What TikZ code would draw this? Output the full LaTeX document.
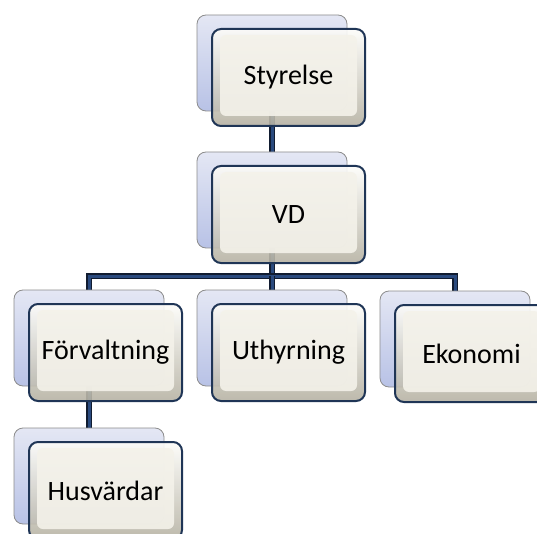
\documentclass[tikz,border=0pt]{standalone}
\usepackage{fontspec}
\setmainfont{Carlito}
\definecolor{bbtop}{HTML}{E4E7F4}
\definecolor{bbbot}{HTML}{B8C2E6}
\definecolor{fbtop}{HTML}{FCFCF9}
\definecolor{fbmid}{HTML}{EBE9E1}
\definecolor{fbbot}{HTML}{B6B2A3}
\definecolor{fbin}{HTML}{F4F2EA}
\definecolor{fbord}{HTML}{1F3556}
\definecolor{lineout}{HTML}{111C30}
\definecolor{linein}{HTML}{2A4A7E}
\pgfdeclarelayer{connl}
\pgfdeclarelayer{backl}
\pgfsetlayers{connl,backl,main}
\tikzset{
  backbox/.style={draw=black!45, line width=0.8pt, rounded corners=9pt,
    top color=bbtop, bottom color=bbbot, minimum width=150pt, minimum height=96pt, inner sep=0pt},
  frontbox/.style={draw=fbord, line width=2pt, rounded corners=9pt,
    top color=fbtop, middle color=fbmid, bottom color=fbbot, minimum width=153pt, minimum height=97pt, inner sep=0pt,
    fill opacity=0.9, text opacity=1, font=\fontsize{28}{31}\selectfont, text=black,
    path picture={\fill[fbin, rounded corners=6pt]
      ([xshift=8pt,yshift=10pt]path picture bounding box.south west) rectangle
      ([xshift=-8pt,yshift=-6pt]path picture bounding box.north east);}},
  conn/.style={draw=lineout, line width=1.1pt, double=linein, double distance=3pt, line join=miter}
}
\newcommand\orgunit[4]{%
  \begin{pgfonlayer}{backl}\node[backbox] (#1B) at (#2+75,#3+48) {};\end{pgfonlayer}
  \node[frontbox] (#1) at (#2+91.5,#3+62.5) {#4};
}
\begin{document}
\begin{tikzpicture}[x=1pt,y=-1pt]
\useasboundingbox (0,0) rectangle (537,534);
\clip (0,0) rectangle (537,534);
\orgunit{sty}{197}{15}{Styrelse}
\orgunit{vd}{197}{152}{VD}
\orgunit{for}{14}{290}{Förvaltning}
\orgunit{uth}{197}{290}{Uthyrning}
\orgunit{eko}{380}{291}{Ekonomi}
\orgunit{hus}{14}{428}{Husvärdar}
\begin{pgfonlayer}{connl}
\coordinate (bus) at (0,276);
\draw[conn] (styB.center) -- (vdB.center);
\draw[conn] (vdB.center) -- (vdB.center |- bus);
\draw[conn] (forB.center) -- (forB.center |- bus) -- (ekoB.center |- bus) -- (ekoB.center);
\draw[conn] (uthB.center) -- (uthB.center |- bus);
\draw[conn] (forB.center) -- (husB.center);
\end{pgfonlayer}
\end{tikzpicture}
\end{document}
